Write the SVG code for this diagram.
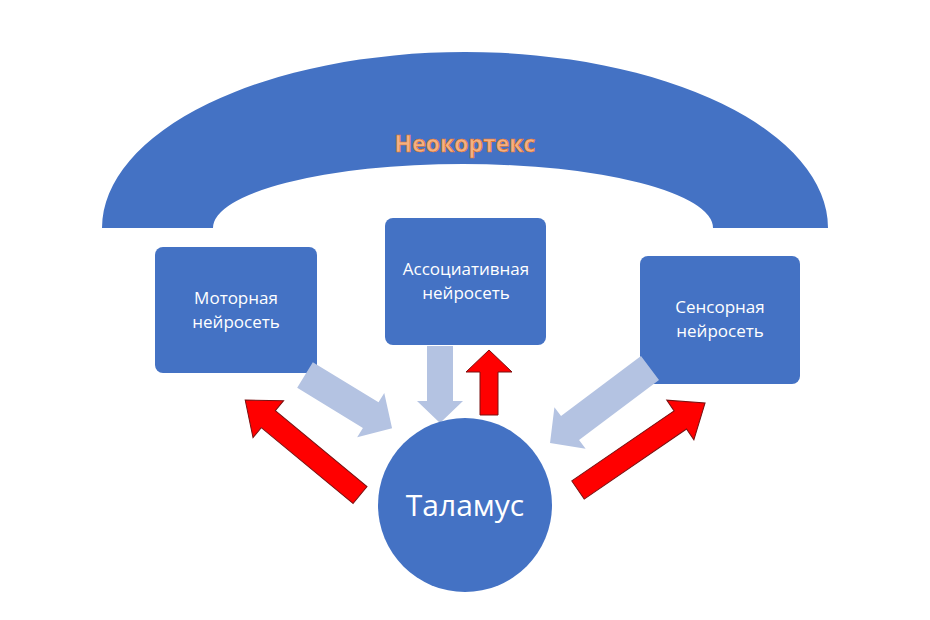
<svg xmlns="http://www.w3.org/2000/svg" width="930" height="620" viewBox="0 0 930 620">
<style>
.b{fill:#4472c4}
.t{fill:#fff;font-family:"Open Sans","Liberation Sans",sans-serif;font-size:17px;text-anchor:middle}
.r{fill:#f00;stroke:#7a1010;stroke-width:1}
.g{fill:#b4c3e2}
</style>
<rect width="930" height="620" fill="#fff"/>
<g id="neocortex">
<path class="b" d="M102,228 A363,176 0 0 1 828,228 L713,228 A250,64 0 0 0 213,228 Z"/>
<text x="465" y="152" text-anchor="middle" font-family="'Open Sans','Liberation Sans',sans-serif" font-size="23" font-weight="bold" fill="#f4b183" stroke="#e07020" stroke-width="0.6">Неокортекс</text>
</g>
<g id="motor"><rect class="b" x="155" y="247" width="162" height="126" rx="8"/>
<text class="t" x="236" y="304">Моторная</text><text class="t" x="236" y="328">нейросеть</text></g>
<g id="assoc"><rect class="b" x="385" y="218" width="161" height="127" rx="8"/>
<text class="t" x="466" y="275">Ассоциативная</text><text class="t" x="466" y="299">нейросеть</text></g>
<g id="sensor"><rect class="b" x="640" y="256" width="160" height="128" rx="8"/>
<text class="t" x="720" y="313">Сенсорная</text><text class="t" x="720" y="337">нейросеть</text></g>
<g id="connectors">
<polygon class="g" transform="translate(305,375) rotate(31.4)" points="0,-15 77,-15 77,-26 102,0 77,26 77,15 0,15"/>
<polygon class="g" transform="translate(440,346) rotate(90)" points="0,-13 55,-13 55,-23 77,0 55,23 55,13 0,13"/>
<polygon class="g" transform="translate(650,368) rotate(143.1)" points="0,-15 100,-15 100,-26 125,0 100,26 100,15 0,15"/>
<polygon class="r" transform="translate(360,495) rotate(219.6)" points="0,-11 119,-11 119,-24 149,0 119,24 119,11 0,11"/>
<polygon class="r" transform="translate(578,490) rotate(-34.4)" points="0,-11 124,-11 124,-24 154,0 124,24 124,11 0,11"/>
<polygon class="r" transform="translate(489,415) rotate(-90)" points="0,-9 43,-9 43,-23 65,0 43,23 43,9 0,9"/>
</g>
<g id="thalamus"><circle class="b" cx="465" cy="505" r="87"/>
<text x="465" y="516" text-anchor="middle" font-family="'Open Sans','Liberation Sans',sans-serif" font-size="30" fill="#fff">Таламус</text></g>
</svg>
